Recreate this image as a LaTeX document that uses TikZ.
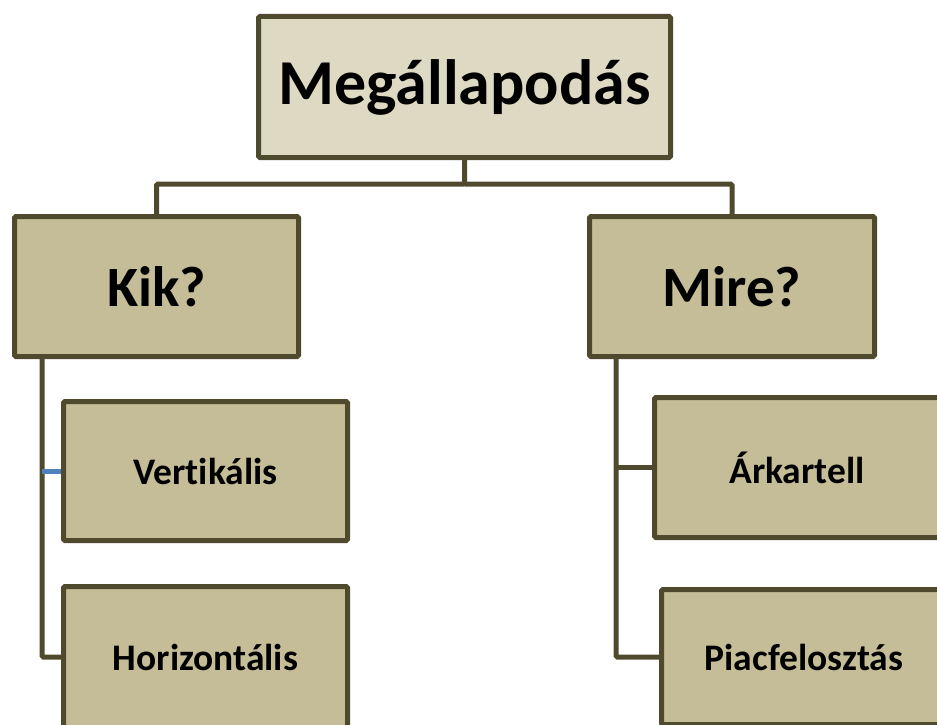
\documentclass[tikz,border=0pt]{standalone}
\usepackage{fontspec}
\setmainfont{Carlito}[Ligatures={NoCommon}]
\usetikzlibrary{backgrounds}
\definecolor{edge}{RGB}{79,73,45}
\definecolor{topfill}{RGB}{221,217,195}
\definecolor{boxfill}{RGB}{196,189,151}
\definecolor{bluelink}{RGB}{79,129,189}
\begin{document}
\begin{tikzpicture}[x=1pt,y=-1pt,
  box/.style={draw=edge,line width=5pt,fill=boxfill,rounded corners=1.5pt,inner sep=0pt,outer sep=0pt,align=center},
  bigfont/.style={font=\bfseries\fontsize{64}{72}\selectfont},
  midfont/.style={font=\bfseries\fontsize{57}{64}\selectfont},
  smallfont/.style={font=\bfseries\fontsize{37.5}{42}\selectfont},
  link/.style={draw=edge,line width=5pt,rounded corners=1.5pt}]
\useasboundingbox (0,0) rectangle (937,725);
\node[box,fill=topfill,minimum width=412pt,minimum height=141pt,bigfont] (top) at (464.5,87) {Megállapodás};
\node[box,minimum width=284pt,minimum height=140pt,midfont] (kik) at (156.5,286.5) {Kik?};
\node[box,minimum width=285pt,minimum height=140pt,midfont] (mire) at (732,286.5) {Mire?};
\node[box,minimum width=284pt,minimum height=139pt,smallfont] (vert) at (205.5,471) {Vertikális};
\node[box,minimum width=284pt,minimum height=141pt,smallfont] (horiz) at (205.5,657) {Horizontális};
\node[box,minimum width=285pt,minimum height=140pt,smallfont] (ark) at (797,467.5) {Árkartell};
\node[box,minimum width=285pt,minimum height=135pt,smallfont] (piac) at (804,657) {Piacfelosztás};
\coordinate (hub) at (464.5,184);
\coordinate (kl) at (42,359);
\coordinate (ml) at (616,359);
\begin{scope}[on background layer]
\draw[link] (top.south) -- (hub) -| (kik.north);
\draw[link] (hub) -| (mire.north);
\draw[link] (kl) |- (horiz.west);
\draw[link] (ml) |- (piac.west);
\draw[link] (ml |- ark.west) -- (ark.west);
\draw[line width=5pt,draw=bluelink] (kl |- vert.west) -- (vert.west);
\end{scope}
\end{tikzpicture}
\end{document}
